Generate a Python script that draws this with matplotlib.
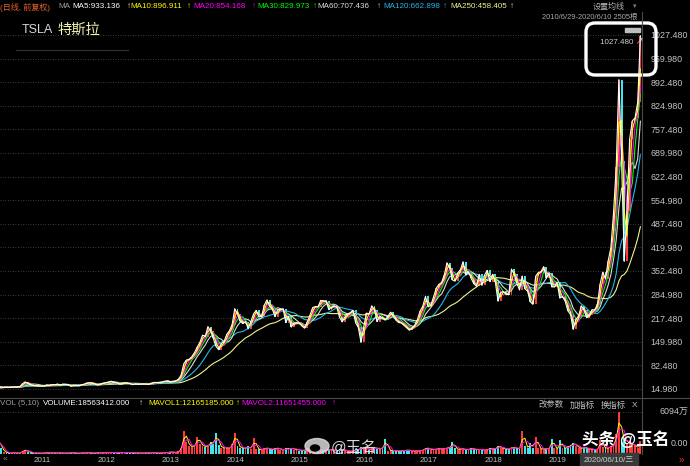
"""
TSLA daily K-line screenshot (2010/6/29 - 2020/6/10), redrawn from half-month closes.
Candles are red up / cyan down, MA lines and volume panel like the trading software.
"""
import numpy as np
import pandas as pd
import matplotlib
matplotlib.use('Agg')
import matplotlib.pyplot as plt
import matplotlib.transforms as mtransforms
from matplotlib.patches import FancyBboxPatch, Rectangle, Ellipse

plt.rcParams['font.family'] = ['Liberation Sans', 'Noto Sans CJK SC', 'DejaVu Sans']

W, H = 690, 466

# half-month closes (mid / end of month), pre-split prices
close_2010 = [23.9, 17.5, 19.9, 19.6, 19.5, 20.6, 20.4, 20.6, 21.8, 30.5, 35.3, 30.8, 26.6]
close_2011 = [25.0, 24.1, 23.5, 23.9, 23.0, 26.7, 25.2, 27.7, 27.0, 29.2, 26.0, 29.1,
              28.0, 27.3, 22.5, 24.7, 24.5, 24.4, 27.0, 29.1, 32.5, 32.7, 31.5, 28.6]
close_2012 = [26.0, 29.1, 32.0, 33.1, 35.0, 37.2, 33.0, 33.1, 29.0, 29.5, 33.0, 31.3,
              30.0, 27.3, 29.5, 28.5, 29.0, 29.3, 28.6, 28.2, 32.0, 33.8, 33.5, 33.9]
close_2013 = [35.0, 37.5, 38.0, 34.8, 37.0, 37.9, 43.0, 53.9, 87.0, 97.8, 100.0, 107.4,
              119.0, 134.3, 148.0, 169.0, 165.0, 193.4, 181.0, 159.9, 137.0, 127.3, 145.0, 150.4]
close_2014 = [171.0, 181.4, 199.0, 244.8, 230.0, 208.5, 202.0, 207.9, 187.0, 207.8, 230.0, 240.0,
              221.0, 223.3, 255.0, 269.7, 252.0, 242.7, 222.0, 242.0, 242.0, 244.5, 205.0, 222.4]
close_2015 = [192.0, 203.6, 204.0, 203.3, 195.0, 188.8, 207.0, 226.0, 248.0, 250.8, 250.0, 268.3,
              266.0, 266.2, 242.0, 249.0, 253.0, 248.4, 220.0, 206.9, 221.0, 230.3, 233.0, 240.0]
close_2016 = [204.0, 191.2, 148.0, 191.9, 232.0, 229.8, 253.0, 240.8, 208.0, 223.2, 217.0, 212.3,
              222.0, 234.8, 223.0, 212.0, 205.0, 204.0, 197.0, 190.0, 183.0, 189.4, 198.0, 213.7]
close_2017 = [238.0, 251.9, 280.0, 249.9, 255.0, 278.3, 303.0, 314.1, 320.0, 341.0, 376.0, 361.6,
              327.0, 323.5, 347.0, 355.9, 379.0, 341.1, 350.0, 331.5, 316.0, 308.9, 343.0, 311.3]
close_2018 = [341.0, 354.3, 322.0, 343.1, 321.0, 266.1, 291.0, 293.9, 286.0, 284.7, 358.0, 343.0,
              318.0, 298.1, 338.0, 301.7, 295.0, 264.8, 257.0, 337.3, 348.0, 350.5, 365.0, 332.8]
close_2019 = [347.0, 307.0, 307.0, 319.9, 275.0, 279.9, 266.0, 238.7, 228.0, 185.2, 214.0, 223.5,
              253.0, 241.6, 219.0, 225.6, 242.0, 240.9, 257.0, 314.9, 349.0, 329.9, 381.0, 418.3]
close_2020 = [518.0, 650.6, 900.0, 667.9, 380.0, 524.0, 730.0, 782.0, 790.0, 835.0, 1025.0]

# daily volume, 10k shares (万)
vol_2010 = [1880, 900, 300, 200, 150, 200, 150, 150, 150, 500, 600, 300, 200]
vol_2011 = [150, 120, 130, 110, 150, 200, 130, 150, 120, 180, 150, 140,
            120, 130, 200, 150, 120, 110, 160, 180, 200, 150, 130, 150]
vol_2012 = [200, 150, 180, 170, 200, 250, 180, 150, 220, 180, 250, 200,
            170, 160, 150, 140, 130, 150, 170, 150, 180, 200, 150, 140]
vol_2013 = [200, 180, 250, 300, 250, 200, 400, 900, 3400, 1800, 1200, 1000,
            1300, 2500, 1500, 1200, 1000, 1300, 1800, 1500, 3000, 1300, 900, 900]
vol_2014 = [900, 800, 1500, 3000, 1200, 900, 900, 800, 1100, 700, 2300, 700,
            700, 600, 800, 900, 700, 600, 800, 900, 600, 500, 900, 700]
vol_2015 = [900, 600, 700, 500, 500, 600, 800, 700, 600, 500, 500, 500,
            600, 500, 700, 600, 500, 400, 700, 600, 500, 400, 400, 400]
vol_2016 = [700, 600, 1000, 800, 800, 600, 800, 1000, 700, 800, 900, 2200,
            500, 500, 500, 400, 500, 400, 500, 600, 500, 400, 500, 400]
vol_2017 = [500, 600, 900, 800, 600, 700, 700, 800, 700, 800, 900, 1000,
            1700, 800, 600, 800, 700, 600, 700, 800, 700, 600, 700, 600]
vol_2018 = [500, 700, 800, 700, 800, 1200, 900, 800, 700, 700, 1000, 900,
            800, 700, 3400, 1200, 800, 1600, 900, 2500, 800, 700, 800, 700]
vol_2019 = [900, 2200, 800, 700, 2000, 900, 800, 1100, 1300, 1600, 1200, 900,
            800, 1000, 800, 700, 700, 600, 700, 2000, 1000, 800, 900, 1100]
vol_2020 = [1400, 2900, 6094, 1800, 2300, 1600, 1500, 1400, 1100, 900, 1856]

YEARS = ['2011', '2012', '2013', '2014', '2015', '2016', '2017', '2018', '2019']
PRICE_TICKS = [14.98, 82.48, 149.98, 217.48, 284.98, 352.48, 419.98, 487.48,
               554.98, 622.48, 689.98, 757.48, 824.98, 892.48, 959.98, 1027.48]

MA_LABELS = ['MA5:933.136', 'MA10:896.911', 'MA20:854.168', 'MA30:829.973',
             'MA60:707.436', 'MA120:662.898', 'MA250:458.405']
MA_COLORS = ['#ffffff', '#ffff00', '#ff00ff', '#00ff00', '#dcdcdc', '#22b8ee', '#f2f28c']
MA_WINDOWS = [1, 2, 3, 4, 6, 12, 24]   # daily periods scaled to half-month bars

closes = np.array(close_2010 + close_2011 + close_2012 + close_2013 + close_2014 + close_2015
                  + close_2016 + close_2017 + close_2018 + close_2019 + close_2020)
vols = np.array(vol_2010 + vol_2011 + vol_2012 + vol_2013 + vol_2014 + vol_2015
                + vol_2016 + vol_2017 + vol_2018 + vol_2019 + vol_2020)
n = len(closes)
idx = np.arange(n)
opens = np.r_[19.0, closes[:-1]]
up = closes >= opens
UP_C, DN_C = '#ff3b3b', '#3ee6ee'
bar_colors = np.where(up, UP_C, DN_C)

XMIN, XMAX = 0.6, n - 0.4


def fx(px):
    return px / W


def fy(py):
    return 1 - py / H


fig = plt.figure(figsize=(W / 100, H / 100), dpi=100, facecolor='black')

# ---- price panel
ax = fig.add_axes([0, fy(397), 642 / W, (397 - 12) / H], facecolor='black')
ax.set_xlim(XMIN, XMAX)
px_per_price = (1027.48 - 14.98) / (389 - 35)
ax.set_ylim(14.98 - (397 - 389) * px_per_price, 1027.48 + (35 - 12) * px_per_price)
bottoms = np.minimum(opens, closes)
heights = np.maximum(np.abs(closes - opens), 2.5)
ax.bar(idx, heights, bottom=bottoms, width=0.7, color=bar_colors, linewidth=0, zorder=2)
s = pd.Series(closes)
for w, c in reversed(list(zip(MA_WINDOWS, MA_COLORS))):
    ax.plot(idx, s.rolling(w, min_periods=1).mean(), color=c, lw=0.8, zorder=3)
ax.yaxis.tick_right()
ax.set_yticks(PRICE_TICKS)
ax.set_yticklabels([f'{v:.3f}' for v in PRICE_TICKS])
ax.tick_params(axis='y', length=0, pad=6, labelsize=6.4, colors='#c4c4c4')
ax.set_xticks([])
ax.grid(axis='y', color='#505050', linestyle=(0, (1, 2)), linewidth=0.6)
for sp in ax.spines.values():
    sp.set_visible(False)

# ---- volume panel
axv = fig.add_axes([0, fy(454), 642 / W, (454 - 398) / H], facecolor='black')
axv.set_xlim(XMIN, XMAX)
axv.set_ylim(0, 6094 * (454 - 398) / (454 - 412))
axv.bar(idx, vols, width=0.7, color=bar_colors, linewidth=0)
vs = pd.Series(vols)
axv.plot(idx, vs.rolling(2, min_periods=1).mean(), color='#ffff00', lw=0.7)
axv.plot(idx, vs.rolling(3, min_periods=1).mean(), color='#ff00ff', lw=0.7)
axv.axhline(6094, color='#505050', linestyle=(0, (1, 2)), linewidth=0.6)
axv.set_xticks([])
axv.set_yticks([])
for sp in axv.spines.values():
    sp.set_visible(False)

# frame lines
fig.add_artist(plt.Line2D([0, 1], [fy(397.5), fy(397.5)], color='#4a4a4a', lw=0.8))
fig.add_artist(plt.Line2D([fx(642), fx(642)], [fy(12), fy(454)], color='#4a4a4a', lw=0.8))

# ---- header rows
hdr = [(0, '(日线, 前复权)', '#e8642a'), (58, 'MA', '#a0a0a0')]
ma_x = [72, 130, 193, 257, 317, 383, 450]
arrow_x = [127, 187, 252, 313, 377, 443, 510]
for x0, lab, c, ax0 in zip(ma_x, MA_LABELS, MA_COLORS, arrow_x):
    hdr.append((x0, lab, c))
    hdr.append((ax0, '↑', c))
for x0, t, c in hdr:
    fig.text(fx(x0), fy(7), t, color=c, fontsize=5.8, va='center', ha='left')
fig.text(fx(593), fy(7), '设置均线', color='#b0b0b0', fontsize=5.8, va='center')
fig.text(fx(633), fy(7), '▾', color='#808080', fontsize=5, va='center')
fig.text(fx(638), fy(17.5), '2010/6/29-2020/6/10 2505根', color='#a8a8a8', fontsize=5.4,
         va='center', ha='right')

vol_hdr = [(0, 'VOL (5,10)', '#a0a0a0'), (43, 'VOLUME:18563412.000', '#ffffff'),
           (139, '↑', '#ffffff'), (148, 'MAVOL1:12165185.000', '#ffff00'),
           (236, '↑', '#ffff00'), (241, 'MAVOL2:11651455.000', '#ff00ff'), (332, '↑', '#ff00ff')]
for x0, t, c in vol_hdr:
    fig.text(fx(x0), fy(403.5), t, color=c, fontsize=5.8, va='center')
for x0, t in [(539, '改参数'), (570, '加指标'), (601, '换指标'), (632, 'X')]:
    fig.text(fx(x0), fy(405.5), t, color='#c0c0c0', fontsize=6, va='center')
fig.text(fx(688), fy(411), '6094万', color='#c4c4c4', fontsize=6.4, va='center', ha='right')
fig.text(fx(688), fy(444), '0.00', color='#c4c4c4', fontsize=6.4, va='center', ha='right')

# ---- x labels
blend = mtransforms.blended_transform_factory(axv.transData, fig.transFigure)
for k, y in enumerate(YEARS):
    axv.text(12.5 + 24 * k + 3.7, fy(460), y, transform=blend, color='#c0c0c0',
             fontsize=5.8, ha='center', va='center', clip_on=False)
fig.patches.append(Rectangle((fx(580), 0), fx(58), fy(453), transform=fig.transFigure,
                             color='#3a3a3a'))
fig.text(fx(609), fy(460), '2020/06/10/三', color='#d0d0d0', fontsize=5.8,
         ha='center', va='center')
fig.text(fx(3), fy(460), '«', color='#909090', fontsize=6, va='center')
fig.text(fx(679), fy(460), '»', color='#ff3030', fontsize=7, va='center')

# ---- title
fig.text(fx(22), fy(30), 'TSLA', color='#d8d8d8', fontsize=9, va='center')
fig.text(fx(57), fy(30), '特斯拉', color='#f2f2a8', fontsize=10.3, va='center')
fig.add_artist(plt.Line2D([fx(16), fx(128)], [fy(50), fy(50)], color='#333333', lw=0.8))

# ---- highlight box on latest high
fig.patches.append(FancyBboxPatch((5.86, (H - 75) / 100), 0.70, 0.52,
                                  boxstyle='round,pad=0,rounding_size=0.09',
                                  transform=fig.dpi_scale_trans, fill=False,
                                  ec='white', lw=2.4))
fig.patches.append(Rectangle((6.25, (H - 32) / 100), 0.15, 0.045,
                             transform=fig.dpi_scale_trans, color='#bdbdbd'))
fig.text(fx(600), fy(42), '1027.480 ↗', color='#d0d0d0', fontsize=5.8, va='center')

# ---- watermarks
fig.patches.append(Ellipse((3.17, (H - 446) / 100), 0.24, 0.15,
                           transform=fig.dpi_scale_trans, color='#d8d8d8', alpha=0.85))
fig.patches.append(Ellipse((3.15, (H - 448) / 100), 0.09, 0.06,
                           transform=fig.dpi_scale_trans, color='black'))
fig.text(fx(331), fy(448), '@玉名', color='#f0f0f0', fontsize=11, va='center', alpha=0.9)
fig.text(fx(582), fy(439), '头条 @玉名', color='white', fontsize=12, va='center',
         fontweight='bold')

fig.savefig('out.png', dpi=100, facecolor='black')
